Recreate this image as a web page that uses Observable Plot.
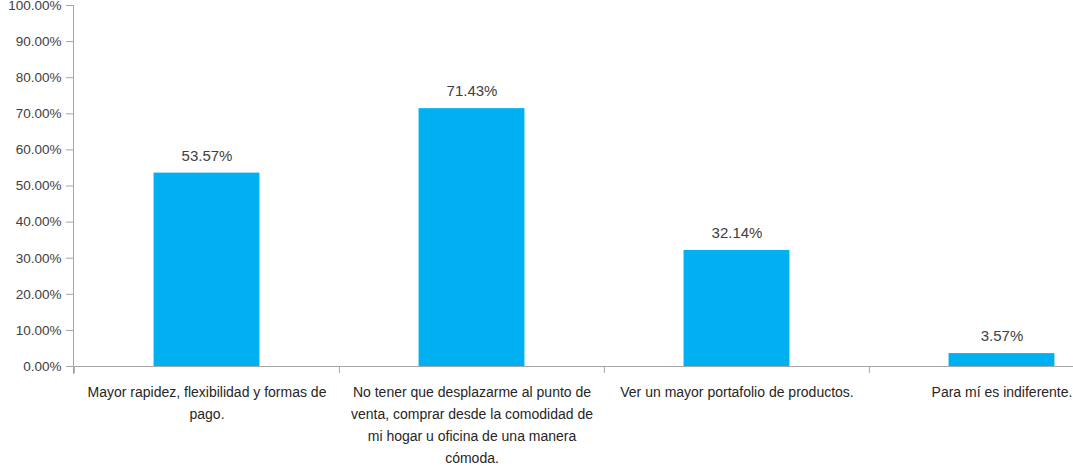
<!DOCTYPE html>
<html><head><meta charset="utf-8">
<script src="https://cdn.jsdelivr.net/npm/d3@7"></script>
<script src="https://cdn.jsdelivr.net/npm/@observablehq/plot@0.6"></script>
<style>
html,body{margin:0;padding:0;background:#fff;overflow:hidden;width:1073px;height:466px;}
#chart svg{display:block;overflow:visible;max-width:none !important;}
</style></head>
<body><div id="chart"></div>
<script>
const categories = [
  "Mayor rapidez, flexibilidad y formas de\npago.",
  "No tener que desplazarme al punto de\nventa, comprar desde la comodidad de\nmi hogar u oficina de una manera\ncómoda.",
  "Ver un mayor portafolio de productos.",
  "Para mí es indiferente."
];
const values = [0.5357, 0.7143, 0.3214, 0.0357];
const yTicks = [0,0.1,0.2,0.3,0.4,0.5,0.6,0.7,0.8,0.9,1.0];

const data = categories.map((c,i)=>({cat:c, v:values[i]}));
const W = 1140, ML = 73, MR = 6;
const step = (W - ML - MR) / categories.length;
const font = "'Liberation Sans Narrow','Arial Narrow','Liberation Sans',sans-serif";
const chart = Plot.plot({
  width: W, height: 466,
  marginLeft: ML, marginRight: MR, marginTop: 5, marginBottom: 100,
  style: {fontFamily: font, fontSize: "14px", color: "#404040", background: "#fff", maxWidth: "none"},
  x: {domain: categories, padding: 0, axis: null},
  y: {domain: [0, 1], axis: null},
  marks: [
    Plot.barY(data, {x: "cat", y: "v", fill: "#00b0f0", insetLeft: step*0.3, insetRight: step*0.3}),
    Plot.axisY(yTicks, {tickFormat: d3.format(".2%"), tickSize: 7, stroke: "#a6a6a6", color: "#404040", fontSize: 13.5, tickPadding: 5, label: null}),
    Plot.frame({anchor: "left", stroke: "#a6a6a6", insetBottom: -7}),
    Plot.ruleY([0], {stroke: "#a6a6a6"}),
    Plot.ruleX(categories, {x: d=>d, dx: -step/2, y1: 0, y2: 0, insetBottom: -7, stroke: "#a6a6a6"}),
    Plot.text(data, {x: "cat", y: "v", text: d=>d3.format(".2%")(d.v), dy: -17, fontSize: 15, fill: "#404040"}),
    Plot.text(data, {x: "cat", y: 0, text: "cat", dy: 15, lineAnchor: "top", lineHeight: 1.57, fontSize: 14, fill: "#262626"})
  ]
});
document.getElementById("chart").appendChild(chart);
</script></body></html>
